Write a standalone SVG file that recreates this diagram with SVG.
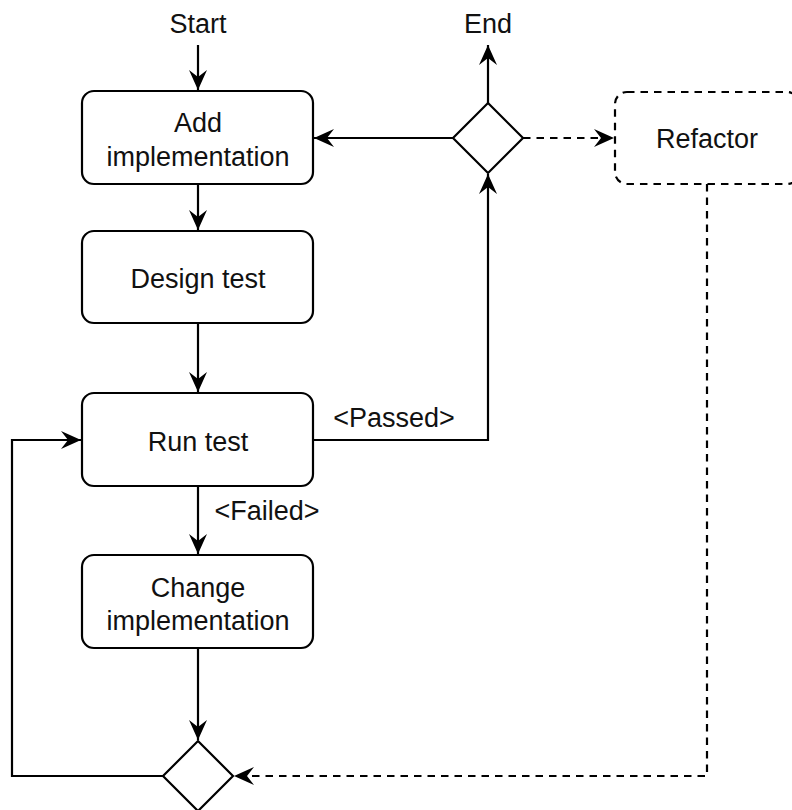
<svg xmlns="http://www.w3.org/2000/svg" width="792" height="810" viewBox="0 0 792 810">
  <style>
    .box { fill: #ffffff; stroke: #000000; stroke-width: 2.2; }
    .dash { stroke-dasharray: 7.5 6; }
    .lbl { font-family: "Liberation Sans", Arial, sans-serif; font-size: 27px; fill: #111111; text-anchor: middle; }
    .edge { fill: none; stroke: #000000; stroke-width: 2.2; }
  </style>
  <defs>
    <marker id="arrow" markerUnits="userSpaceOnUse" markerWidth="24" markerHeight="24" viewBox="-22 -12 24 24" refX="0" refY="0" orient="auto">
      <path d="M0,0 L-20,-9 L-13,0 L-20,9 Z" fill="#000000"/>
    </marker>
  </defs>
  <rect width="792" height="810" fill="#ffffff"/>

  <!-- connectors -->
  <g id="connectors">
    <path class="edge" d="M198,45 L198,90" marker-end="url(#arrow)"/>
    <path class="edge" d="M198,184 L198,230" marker-end="url(#arrow)"/>
    <path class="edge" d="M198,323 L198,392" marker-end="url(#arrow)"/>
    <path class="edge" d="M198,486 L198,554" marker-end="url(#arrow)"/>
    <path class="edge" d="M198,648 L198,740" marker-end="url(#arrow)"/>
    <path class="edge" d="M313,440 L488,440 L488,174" marker-end="url(#arrow)"/>
    <path class="edge" d="M453,138 L314,138" marker-end="url(#arrow)"/>
    <path class="edge" d="M488,103 L488,45" marker-end="url(#arrow)"/>
    <path class="edge" d="M163,776 L12,776 L12,440 L81,440" marker-end="url(#arrow)"/>
    <path class="edge dash" d="M523,138 L614,138" marker-end="url(#arrow)"/>
    <path class="edge dash" d="M707,184 L707,776 L234,776" marker-end="url(#arrow)"/>
    <text class="lbl" x="394" y="427">&lt;Passed&gt;</text>
    <text class="lbl" x="267" y="520">&lt;Failed&gt;</text>
  </g>

  <g id="start">
    <text class="lbl" x="198" y="33">Start</text>
  </g>
  <g id="end">
    <text class="lbl" x="488" y="33">End</text>
  </g>

  <g id="add-implementation">
    <rect class="box" x="82" y="91" width="231" height="93" rx="12"/>
    <text class="lbl" x="198" y="132">Add</text>
    <text class="lbl" x="198" y="166">implementation</text>
  </g>

  <g id="design-test">
    <rect class="box" x="82" y="231" width="231" height="92" rx="12"/>
    <text class="lbl" x="198" y="288">Design test</text>
  </g>

  <g id="run-test">
    <rect class="box" x="82" y="393" width="231" height="93" rx="12"/>
    <text class="lbl" x="198" y="451">Run test</text>
  </g>

  <g id="change-implementation">
    <rect class="box" x="82" y="555" width="231" height="93" rx="12"/>
    <text class="lbl" x="198" y="597">Change</text>
    <text class="lbl" x="198" y="630">implementation</text>
  </g>

  <g id="decision-top">
    <path class="box" d="M488,103 L523,138 L488,173 L453,138 Z"/>
  </g>

  <g id="decision-bottom">
    <path class="box" d="M198,741 L233,776 L198,811 L163,776 Z"/>
  </g>

  <g id="refactor">
    <rect class="box dash" x="615" y="92" width="184" height="92" rx="12"/>
    <text class="lbl" x="707" y="148">Refactor</text>
  </g>
</svg>
